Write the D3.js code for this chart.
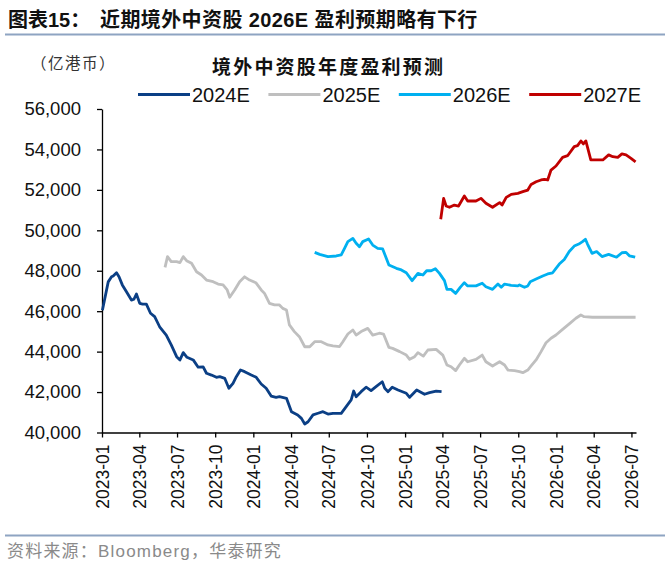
<!DOCTYPE html>
<html>
<head>
<meta charset="utf-8">
<script src="https://cdn.jsdelivr.net/npm/d3@7"></script>
<style>
  body { margin: 0; background: #fff; }
  svg { display: block; font-family: "Liberation Sans", Arial, "Noto Sans CJK SC", sans-serif; }
  .cjk { font-family: "Liberation Sans", "Noto Sans CJK SC", sans-serif; }
</style>
</head>
<body>
<div id="chart"></div>
<script>
const w = 670, h = 576;

// Series names and colours
const seriesNames = ['2024E', '2025E', '2026E', '2027E'];
const seriesColors = ['#0b3f85', '#bfbfbf', '#00b0f0', '#c00000'];

// Values (亿港币)
const s2024 = [
  ['2023-01-02',46050],['2023-01-16',47450],['2023-01-24',47700],['2023-01-28',47740],['2023-02-05',47900],
  ['2023-02-11',47700],['2023-02-19',47300],['2023-03-01',46960],['2023-03-13',46550],['2023-03-19',46590],
  ['2023-03-25',46850],['2023-04-02',46390],['2023-04-09',46350],['2023-04-18',46350],['2023-04-28',45900],
  ['2023-05-08',45730],['2023-05-20',45230],['2023-06-05',44820],['2023-06-17',44330],['2023-06-30',43750],
  ['2023-07-08',43590],['2023-07-16',43950],['2023-07-25',43720],['2023-08-09',43590],['2023-08-21',43230],
  ['2023-09-02',43250],['2023-09-10',42930],['2023-09-22',42840],['2023-10-04',42730],['2023-10-12',42760],
  ['2023-10-24',42680],['2023-11-03',42190],['2023-11-13',42430],['2023-11-21',42760],['2023-12-01',43090],
  ['2023-12-11',43010],['2023-12-27',42840],['2024-01-08',42730],['2024-01-20',42400],['2024-02-01',42190],
  ['2024-02-13',41800],['2024-02-25',41740],['2024-03-04',41770],['2024-03-21',41690],['2024-04-02',41030],
  ['2024-04-17',40870],['2024-04-26',40700],['2024-05-04',40420],['2024-05-12',40530],['2024-05-24',40870],
  ['2024-06-05',40950],['2024-06-17',41030],['2024-06-29',40910],['2024-07-11',40950],['2024-07-31',40950],
  ['2024-08-12',41280],['2024-08-24',41610],['2024-08-30',42050],['2024-09-05',41770],['2024-09-17',42020],
  ['2024-09-29',42240],['2024-10-11',42070],['2024-10-23',42270],['2024-11-07',42510],['2024-11-13',42190],
  ['2024-11-21',42020],['2024-12-01',42240],['2024-12-15',42100],['2025-01-04',41940],['2025-01-12',41740],
  ['2025-01-29',42100],['2025-02-17',41890],['2025-03-01',41970],['2025-03-17',42050],['2025-03-30',42020]
];

const s2025 = [
  ['2023-06-02',48170],['2023-06-08',48700],['2023-06-17',48450],['2023-06-30',48450],['2023-07-08',48400],
  ['2023-07-16',48700],['2023-07-24',48500],['2023-08-05',48370],['2023-08-17',47950],['2023-08-29',47790],
  ['2023-09-10',47540],['2023-09-26',47460],['2023-10-08',47340],['2023-10-20',47300],['2023-10-30',47050],
  ['2023-11-05',46690],['2023-11-17',47050],['2023-11-29',47460],['2023-12-11',47700],['2023-12-23',47540],
  ['2024-01-07',47410],['2024-01-20',47050],['2024-01-28',46880],['2024-02-09',46390],['2024-02-21',46310],
  ['2024-03-04',46310],['2024-03-12',46140],['2024-03-21',46060],['2024-03-28',45320],['2024-04-09',44990],
  ['2024-04-21',44740],['2024-05-04',44240],['2024-05-16',44240],['2024-05-28',44490],['2024-06-13',44490],
  ['2024-06-29',44330],['2024-07-11',44280],['2024-07-27',44250],['2024-08-04',44490],['2024-08-16',44870],
  ['2024-08-28',45070],['2024-09-05',44820],['2024-09-17',44990],['2024-10-03',45150],['2024-10-15',44820],
  ['2024-10-31',44910],['2024-11-10',44870],['2024-11-23',44210],['2024-12-02',44160],['2024-12-19',44000],
  ['2025-01-04',43830],['2025-01-12',43620],['2025-01-24',43750],['2025-02-01',43950],['2025-02-14',43780],
  ['2025-02-25',44080],['2025-03-17',44110],['2025-04-02',43830],['2025-04-12',43340],['2025-04-22',43250],
  ['2025-05-03',43060],['2025-05-12',43340],['2025-05-24',43670],['2025-06-01',43500],['2025-06-21',43620],
  ['2025-07-06',43830],['2025-07-15',43500],['2025-07-31',43290],['2025-08-17',43500],['2025-08-29',43340],
  ['2025-09-06',43090],['2025-09-22',43060],['2025-10-04',43010],['2025-10-12',42960],['2025-10-24',43090],
  ['2025-11-01',43290],['2025-11-13',43590],['2025-11-25',44000],['2025-12-07',44440],['2025-12-19',44660],
  ['2025-12-31',44820],['2026-01-16',45100],['2026-02-01',45370],['2026-02-17',45650],['2026-03-01',45810],
  ['2026-03-09',45730],['2026-03-29',45700],['2026-07-11',45700]
];

const s2026 = [
  ['2024-05-28',48910],['2024-06-09',48810],['2024-06-29',48700],['2024-07-19',48730],['2024-07-31',48780],
  ['2024-08-08',49110],['2024-08-16',49440],['2024-08-28',49600],['2024-09-05',49360],['2024-09-13',49190],
  ['2024-09-21',49440],['2024-10-05',49570],['2024-10-15',49270],['2024-10-27',49110],['2024-11-08',49080],
  ['2024-11-23',48280],['2024-12-11',48120],['2024-12-23',48040],['2025-01-04',47900],['2025-01-18',47510],
  ['2025-02-01',47870],['2025-02-13',47790],['2025-02-22',48000],['2025-03-05',48000],['2025-03-15',48100],
  ['2025-03-25',47870],['2025-04-06',47510],['2025-04-12',47080],['2025-04-22',47080],['2025-05-03',46880],
  ['2025-05-14',47180],['2025-05-24',47410],['2025-06-01',47250],['2025-06-21',47250],['2025-07-06',47380],
  ['2025-07-15',47210],['2025-07-31',47080],['2025-08-13',47340],['2025-08-21',47180],['2025-08-29',47340],
  ['2025-09-14',47280],['2025-09-30',47250],['2025-10-04',47300],['2025-10-16',47180],['2025-10-24',47250],
  ['2025-10-30',47460],['2025-11-13',47590],['2025-11-29',47740],['2025-12-11',47840],['2025-12-23',47900],
  ['2025-12-31',48120],['2026-01-08',48330],['2026-01-20',48560],['2026-02-01',48950],['2026-02-13',49220],
  ['2026-02-24',49320],['2026-03-05',49440],['2026-03-12',49560],['2026-03-17',49320],['2026-03-28',48860],
  ['2026-04-08',48950],['2026-04-21',48700],['2026-05-07',48810],['2026-05-26',48670],['2026-06-08',48890],
  ['2026-06-18',48910],['2026-06-26',48740],['2026-07-10',48670]
];

const s2027 = [
  ['2025-03-28',50550],['2025-04-04',51580],['2025-04-10',51200],['2025-04-18',51140],['2025-04-30',51250],
  ['2025-05-10',51200],['2025-05-24',51700],['2025-06-01',51450],['2025-06-21',51450],['2025-07-03',51580],
  ['2025-07-15',51340],['2025-07-31',51140],['2025-08-17',51370],['2025-08-23',51250],['2025-09-02',51630],
  ['2025-09-14',51780],['2025-09-30',51830],['2025-10-12',51910],['2025-10-24',51990],['2025-11-01',52270],
  ['2025-11-13',52400],['2025-11-25',52490],['2025-12-03',52520],['2025-12-11',52490],['2025-12-19',52980],
  ['2025-12-31',53180],['2026-01-16',53610],['2026-01-28',53690],['2026-02-13',54140],['2026-02-21',54190],
  ['2026-03-01',54420],['2026-03-07',54270],['2026-03-13',54420],['2026-03-25',53480],['2026-04-07',53480],
  ['2026-04-23',53480],['2026-05-07',53730],['2026-05-17',53640],['2026-05-29',53610],['2026-06-08',53780],
  ['2026-06-18',53730],['2026-06-30',53560],['2026-07-11',53390]
];

const yTicks = [40000, 42000, 44000, 46000, 48000, 50000, 52000, 54000, 56000];
const xStart = '2023-01-01', xEnd = '2026-07-12';

const parse = d3.timeParse('%Y-%m-%d');
const allSeries = [s2024, s2025, s2026, s2027].map((s, i) => ({
  name: seriesNames[i],
  color: seriesColors[i],
  values: s.map(d => ({date: parse(d[0]), value: d[1]}))
}));

const svg = d3.select('#chart').append('svg').attr('width', w).attr('height', h);

//Header
svg.append('text').attr('class','cjk').attr('x', 8).attr('y', 27)
  .style('font-size','20px').style('font-weight','bold').attr('fill','#111')
  .text('图表15：');
svg.append('text').attr('class','cjk').attr('x', 100).attr('y', 27)
  .style('font-size','20px').style('font-weight','bold').attr('fill','#111')
  .style('letter-spacing','0.4px')
  .text('近期境外中资股 2026E 盈利预期略有下行');
svg.append('line').attr('x1',5).attr('x2',665).attr('y1',34.5).attr('y2',34.5)
  .attr('stroke','#8ea4c2').attr('stroke-width',2);

svg.append('text').attr('class','cjk').attr('x', 31).attr('y', 69)
  .style('font-size','15.5px').style('letter-spacing','1.5px').attr('fill','#333')
  .text('（亿港币）');
svg.append('text').attr('class','cjk').attr('x', 212).attr('y', 74)
  .style('font-size','19px').style('font-weight','bold').style('letter-spacing','2.2px').attr('fill','#111')
  .text('境外中资股年度盈利预测');

//Scales
const x = d3.scaleTime().domain([parse(xStart), parse(xEnd)]).range([102, 636]);
const y = d3.scaleLinear().domain([40000, 56000]).range([432.5, 109]);

//Axes
const yAxis = svg.append('g').attr('transform','translate(102,0)')
  .call(d3.axisLeft(y).tickValues(yTicks).tickFormat(d3.format(',')).tickSize(5).tickSizeOuter(0).tickPadding(16));
yAxis.selectAll('text').style('font-size','18.5px').attr('fill','#111');

const xAxis = svg.append('g').attr('transform','translate(0,432.5)')
  .call(d3.axisBottom(x).ticks(d3.timeMonth.every(3)).tickFormat(d3.timeFormat('%Y-%m')).tickSize(5).tickSizeOuter(0));
xAxis.selectAll('text')
  .attr('transform','rotate(-90)')
  .attr('x', -12).attr('y', 0).attr('dy','0.35em')
  .style('text-anchor','end').style('font-size','17.5px').attr('fill','#111');

svg.selectAll('.domain, .tick line').attr('stroke','#000').attr('stroke-width',1.3);

//Lines
const line = d3.line().x(d => x(d.date)).y(d => y(d.value));
svg.selectAll('.series')
  .data(allSeries)
  .enter()
  .append('path')
  .attr('class','series')
  .attr('d', d => line(d.values))
  .attr('fill','none')
  .attr('stroke', d => d.color)
  .attr('stroke-width', 2.8)
  .attr('stroke-linejoin','round');

//Legend
const legend = svg.selectAll('.legend')
  .data(allSeries)
  .enter()
  .append('g')
  .attr('class','legend')
  .attr('transform', (d, i) => `translate(${138 + i * 130.4},94.5)`);
legend.append('line').attr('x1',0).attr('x2',52).attr('y1',0).attr('y2',0)
  .attr('stroke', d => d.color).attr('stroke-width',3);
legend.append('text').attr('x',54).attr('y',0).attr('dy','0.36em')
  .style('font-size','20px').attr('fill','#111')
  .text(d => d.name);

//Footer
svg.append('line').attr('x1',5).attr('x2',665).attr('y1',535.5).attr('y2',535.5)
  .attr('stroke','#8ea4c2').attr('stroke-width',2);
svg.append('text').attr('class','cjk').attr('x', 7).attr('y', 557)
  .style('font-size','17px').style('letter-spacing','1.2px').attr('fill','#8a8a8a')
  .text('资料来源：Bloomberg，华泰研究');
</script>
</body>
</html>
